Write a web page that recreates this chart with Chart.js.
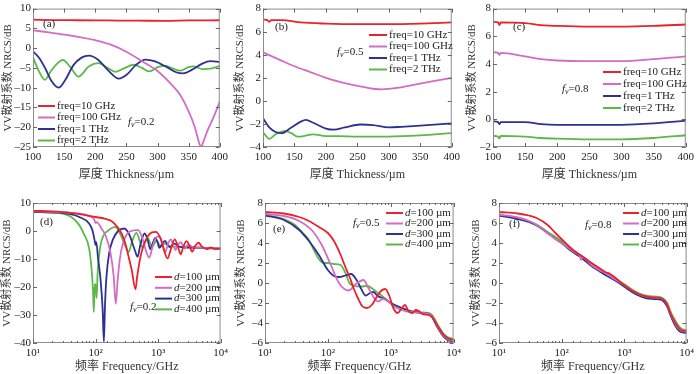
<!DOCTYPE html>
<html>
<head>
<meta charset="utf-8">
<script src="https://cdn.jsdelivr.net/npm/chart.js@4.4.0/dist/chart.umd.min.js"></script>
<style>
  body { margin: 0; background: #fff; width: 700px; height: 374px; position: relative; overflow: hidden; }
  canvas { position: absolute; }
</style>
</head>
<body>
<script>
// ---- data: [x, y] pairs ----
// (a) fv = 0.2, NRCS vs thickness
var aRed = [[100,7.2],[130,7.1],[170,7.05],[220,7.0],[270,6.95],[310,6.9],[350,7.0],[400,7.05]];
var aMag = [[100,4.5],[125,4.0],[150,3.4],[175,2.8],[200,2.0],[225,0.9],[250,-0.9],[275,-3.3],[300,-5.8],[320,-8.8],[335,-11.5],[350,-16],[360,-20],[366,-23.5],[370,-25],[374,-23.5],[380,-21],[390,-17.5],[400,-13.6]];
var aBlue = [[100,-0.8],[110,-2.5],[120,-5.2],[130,-8.4],[141,-10.0],[152,-8.0],[165,-4.3],[178,-2.4],[190,-1.9],[205,-3.0],[220,-5.5],[238,-7.7],[252,-6.5],[265,-4.3],[281,-2.9],[295,-3.3],[315,-4.8],[330,-6.1],[341,-6.4],[355,-5.5],[372,-3.9],[385,-3.3],[400,-3.5]];
var aGreen = [[100,-2.3],[110,-6],[119,-8.0],[130,-5.5],[148,-3.0],[160,-4.8],[173,-7.2],[190,-4.6],[205,-3.8],[220,-5.0],[232,-6.0],[245,-5.2],[262,-4.2],[275,-5.0],[287,-5.9],[300,-4.8],[312,-4.4],[325,-5.2],[337,-5.7],[350,-4.8],[358,-4.6],[372,-5.3],[385,-5.2],[400,-4.5]];

// (b) fv = 0.5
var bRed = [[100,7.05],[107,7.0],[110,6.85],[113,7.0],[130,7.0],[160,6.8],[200,6.7],[250,6.65],[300,6.65],[350,6.7],[400,6.8]];
var bMag = [[100,4.2],[125,3.6],[150,3.0],[175,2.5],[200,2.0],[225,1.6],[250,1.3],[275,1.05],[290,1.0],[310,1.1],[335,1.35],[360,1.6],[380,1.8],[400,2.0]];
var bBlue = [[100,-1.5],[110,-2.3],[120,-2.7],[130,-2.8],[145,-2.3],[160,-1.8],[168,-1.65],[180,-1.9],[200,-2.4],[213,-2.5],[230,-2.3],[255,-2.05],[275,-2.1],[300,-2.3],[320,-2.25],[350,-2.15],[400,-1.95]];
var bGreen = [[100,-2.7],[110,-3.3],[120,-2.9],[135,-2.6],[145,-2.8],[155,-3.1],[165,-3.05],[180,-2.9],[200,-3.05],[220,-3.05],[250,-3.1],[300,-3.1],[350,-3.0],[400,-2.8]];

// (c) fv = 0.8
var cRed = [[100,7.05],[108,7.0],[110,6.8],[112,7.0],[150,6.95],[175,6.8],[200,6.75],[250,6.7],[300,6.7],[350,6.75],[400,6.85]];
var cMag = [[100,4.85],[108,4.8],[110,4.65],[112,4.8],[150,4.55],[175,4.35],[200,4.25],[250,4.2],[300,4.2],[350,4.35],[400,4.55]];
var cBlue = [[100,-0.15],[108,-0.2],[110,-0.35],[112,-0.2],[150,-0.2],[175,-0.35],[200,-0.4],[250,-0.4],[300,-0.4],[350,-0.3],[400,-0.1]];
var cGreen = [[100,-1.2],[108,-1.25],[110,-1.4],[112,-1.2],[150,-1.25],[175,-1.35],[200,-1.4],[250,-1.45],[300,-1.45],[350,-1.35],[400,-1.15]];

// (d) fv = 0.2, NRCS vs frequency (GHz)
var dRed = [[10,7.2],[20,7.0],[40,6.5],[60,5.9],[80,5.4],[100,5.0],[140,4.4],[182,3.5],[220,1.6],[262,-0.9],[300,-4.5],[333,-8.6],[380,-14],[435,-20.8],[465,-16],[520,-9.5],[580,-5.5],[690,-1.8],[800,-0.5],[930,-0.3],[1100,-2.8],[1250,-7.0],[1420,-9.8],[1600,-6.5],[1845,-3.0],[2050,-5.0],[2290,-8.3],[2550,-5.5],[2850,-3.6],[3150,-5.0],[3500,-7.4],[3950,-5.2],[4460,-4.2],[5000,-5.5],[6000,-6.5],[7000,-5.9],[8000,-6.4],[10000,-6.3]];
var dMag = [[10,7.0],[30,6.7],[50,6.3],[79,5.4],[95,4.2],[100,2.8],[105,3.2],[125,0.8],[144,-1.5],[172,-7.4],[195,-16],[211,-26],[225,-18],[245,-10],[270,-5],[320,-1.0],[400,0.2],[480,0.3],[560,-2.5],[640,-7.0],[720,-9.5],[820,-5.5],[920,-2.5],[1050,-1.8],[1180,-4.5],[1300,-7.5],[1450,-4.5],[1600,-3.0],[1750,-5.0],[1900,-6.8],[2100,-4.8],[2300,-4.0],[2500,-5.2],[2700,-6.3],[3000,-5.0],[3500,-5.6],[4500,-5.9],[6000,-6.1],[10000,-6.3]];
var dBlue = [[10,6.8],[30,6.4],[40,6.0],[55,5.0],[79,2.7],[90,0],[97,-3.5],[100,-5],[103,-4],[110,-10],[120,-17],[130,-28],[136,-39.5],[142,-26],[150,-16],[165,-8],[190,-3],[230,0],[289,0.9],[350,-1.5],[420,-6.5],[470,-9.2],[520,-5],[610,-0.9],[680,-3.0],[750,-6.5],[820,-4.5],[900,-2.5],[980,-4.0],[1050,-6.0],[1170,-4.5],[1300,-3.5],[1420,-5.0],[1550,-5.8],[1700,-5.0],[1850,-4.5],[2100,-5.5],[3000,-5.9],[5000,-6.0],[10000,-6.3]];
var dGreen = [[10,6.8],[20,6.5],[30,6.2],[40,5.2],[55,2.1],[65,-1],[79,-6.2],[86,-13],[91,-21],[94,-29],[97,-19],[100,-19],[104,-24],[108,-15],[118,-6],[135,-1.5],[160,0.2],[206,1.5],[260,-2],[300,-5.5],[340,-7.5],[380,-4],[450,-0.7],[510,-3.5],[560,-5.8],[620,-4],[680,-2.5],[740,-4],[800,-5.8],[870,-4.5],[950,-3.5],[1020,-4.5],[1100,-5.6],[1200,-4.9],[1300,-4.5],[1500,-5.3],[2000,-5.6],[3000,-5.8],[5000,-6.0],[10000,-6.3]];

// (e) fv = 0.5
var eRed = [[10,7.1],[20,6.95],[35,6.6],[50,6.2],[72,5.6],[100,5.0],[125,4.2],[155,3.0],[190,1.6],[225,0.5],[260,-0.6],[300,-1.5],[350,-2.3],[420,-2.5],[500,-2.2],[600,-1.4],[700,-0.8],[820,-0.6],[950,-1.3],[1100,-2.5],[1290,-3.0],[1500,-2.5],[1690,-2.2],[1900,-2.8],[2200,-3.0],[2500,-2.7],[2800,-2.8],[3200,-3.1],[4000,-3.2],[4500,-3.4],[5000,-3.8],[6000,-4.6],[7000,-5.2],[8000,-5.5],[10000,-5.7]];
var eMag = [[10,6.9],[20,6.7],[35,6.2],[57,5.2],[80,3.8],[110,1.9],[150,0.0],[214,-0.75],[280,-0.1],[367,0.3],[450,-0.6],[560,-1.6],[630,-1.85],[750,-1.6],[900,-1.8],[1100,-2.3],[1500,-2.7],[2000,-2.9],[3000,-3.0],[4000,-3.1],[4500,-3.3],[5000,-3.8],[6000,-4.7],[7000,-5.3],[8000,-5.6],[10000,-5.75]];
var eBlue = [[10,6.75],[20,6.3],[35,5.3],[50,4.2],[72,2.8],[100,1.3],[130,0.65],[150,0.6],[190,0.75],[235,0.9],[280,0.4],[340,-0.6],[400,-1.25],[470,-1.0],[530,-0.9],[620,-1.3],[800,-1.6],[1000,-2.0],[1500,-2.5],[2000,-2.8],[3000,-3.0],[4000,-3.1],[4500,-3.3],[5000,-3.9],[6000,-4.8],[7000,-5.4],[8000,-5.7],[10000,-5.85]];
var eGreen = [[10,6.8],[20,6.4],[30,5.8],[40,5.0],[50,4.3],[60,3.3],[72,2.4],[85,2.0],[100,2.0],[125,1.9],[160,1.8],[190,1.0],[220,0.0],[270,-0.3],[330,-0.35],[430,-0.3],[520,-0.6],[630,-1.0],[800,-1.5],[1000,-2.0],[1500,-2.5],[2500,-2.9],[4000,-3.0],[4500,-3.2],[5000,-3.6],[6000,-4.5],[7000,-5.1],[8000,-5.4],[10000,-5.6]];

// (f) fv = 0.8
var fRed = [[10,7.1],[20,6.95],[30,6.75],[40,6.5],[60,5.8],[80,5.0],[100,4.4],[130,3.7],[160,3.2],[200,2.8],[300,2.0],[400,1.5],[500,1.1],[600,0.9],[700,0.6],[800,0.3],[1000,-0.2],[1300,-0.7],[1700,-1.1],[2200,-1.35],[3000,-1.45],[4000,-1.55],[4500,-1.8],[5000,-2.3],[5500,-3.0],[6500,-3.9],[7500,-4.5],[8500,-4.75],[10000,-4.85]];
var fMag = [[10,6.85],[20,6.55],[30,6.2],[40,5.8],[60,5.0],[80,4.4],[100,4.0],[130,3.5],[160,3.1],[195,2.7],[205,2.3],[215,2.6],[300,1.8],[400,1.3],[500,1.0],[700,0.4],[1000,-0.2],[1300,-0.7],[1700,-1.1],[2200,-1.35],[3000,-1.45],[4000,-1.55],[4500,-1.8],[5000,-2.3],[5500,-3.0],[6500,-4.0],[7500,-4.6],[8500,-4.8],[10000,-4.9]];
var fBlue = [[10,6.75],[20,6.4],[30,6.1],[40,5.75],[60,5.0],[80,4.4],[100,4.0],[130,3.4],[160,3.0],[200,2.6],[300,1.7],[400,1.2],[500,0.8],[700,0.3],[1000,-0.35],[1300,-0.85],[1700,-1.25],[2200,-1.5],[3000,-1.6],[4000,-1.7],[4500,-2.0],[5000,-2.5],[5500,-3.2],[6500,-4.2],[7500,-4.75],[8500,-4.95],[10000,-5.0]];
var fGreen = [[10,6.8],[20,6.5],[30,6.2],[40,5.85],[60,5.1],[80,4.6],[100,4.2],[130,3.6],[160,3.2],[200,2.8],[300,2.0],[400,1.45],[500,1.05],[700,0.5],[1000,-0.1],[1300,-0.6],[1700,-1.0],[2200,-1.25],[3000,-1.35],[4000,-1.45],[4500,-1.7],[5000,-2.1],[5500,-2.8],[6500,-3.7],[7500,-4.3],[8500,-4.6],[10000,-4.7]];

var freqLabels = ['freq=10 GHz', 'freq=100 GHz', 'freq=1 THz', 'freq=2 THz'];
var thickLabels = ['100 µm', '200 µm', '300 µm', '400 µm'];

var colors = ['#e8232b', '#d26cc4', '#2e3192', '#5db848'];
var SERIF = "'Liberation Serif', 'Times New Roman', 'Noto Sans CJK SC', serif";

// frame + inward ticks on all four sides (MATLAB look)
var boxTicks = {
	id: 'boxTicks',
	afterDatasetsDraw: function(chart) {
		var ctx = chart.ctx, a = chart.chartArea, xs = chart.scales.x, ys = chart.scales.y;
		ctx.save();
		ctx.strokeStyle = '#8c8c8c';
		ctx.lineWidth = 1;
		ctx.strokeRect(a.left + 0.5, a.top + 0.5, a.right - a.left - 1, a.bottom - a.top - 1);
		ctx.strokeStyle = '#666';
		ctx.beginPath();
		xs.ticks.forEach(function(t) {
			var px = Math.round(xs.getPixelForValue(t.value)) + 0.5;
			var len = 4;
			if (xs.type === 'logarithmic') {
				var lg = Math.log10(t.value);
				if (Math.abs(lg - Math.round(lg)) > 1e-6) len = 2;
			}
			ctx.moveTo(px, a.bottom); ctx.lineTo(px, a.bottom - len);
			ctx.moveTo(px, a.top); ctx.lineTo(px, a.top + len);
		});
		ys.ticks.forEach(function(t) {
			var py = Math.round(ys.getPixelForValue(t.value)) + 0.5;
			ctx.moveTo(a.left, py); ctx.lineTo(a.left + 4, py);
			ctx.moveTo(a.right, py); ctx.lineTo(a.right - 4, py);
		});
		ctx.stroke();
		ctx.restore();
	}
};

// in-plot legend, panel label and fv note
var panelText = {
	id: 'panelText',
	afterDraw: function(chart, args, o) {
		var ctx = chart.ctx;
		ctx.save();
		ctx.textBaseline = 'middle';
		ctx.fillStyle = '#222';
		ctx.font = '11px ' + SERIF;
		ctx.fillText(o.tag, o.tagX, o.tagY);

		// f_v = ...
		var x = o.fvX;
		ctx.font = 'italic 11px ' + SERIF;
		ctx.fillText('f', x, o.fvY);
		x += ctx.measureText('f').width;
		ctx.font = 'italic 8px ' + SERIF;
		ctx.fillText('v', x, o.fvY + 3);
		x += ctx.measureText('v').width;
		ctx.font = '11px ' + SERIF;
		ctx.fillText(o.fv, x, o.fvY);

		chart.data.datasets.forEach(function(ds, i) {
			var y = o.legY + i * o.legGap;
			ctx.strokeStyle = ds.borderColor;
			ctx.lineWidth = 2;
			ctx.beginPath();
			ctx.moveTo(o.legX1, y); ctx.lineTo(o.legX2, y);
			ctx.stroke();
			var tx = o.legX2 + 2;
			if (o.italicD) {
				ctx.font = 'italic 11px ' + SERIF;
				ctx.fillText('d', tx, y);
				tx += ctx.measureText('d').width;
				ctx.font = '11px ' + SERIF;
				ctx.fillText('=' + ds.label, tx, y);
			} else {
				ctx.font = '11px ' + SERIF;
				ctx.fillText(ds.label, tx, y);
			}
		});
		ctx.restore();
	}
};

function supPow(v) {
	var sup = { 1: '¹', 2: '²', 3: '³', 4: '⁴' };
	var lg = Math.log10(v);
	if (Math.abs(lg - Math.round(lg)) < 1e-6) return '10' + sup[Math.round(lg)];
	return '';
}

function makePanel(p) {
	var cv = document.createElement('canvas');
	cv.width = p.w; cv.height = p.h;
	cv.style.left = p.left + 'px'; cv.style.top = p.top + 'px';
	document.body.appendChild(cv);

	var datasets = p.series.map(function(s, i) {
		return {
			label: p.labels[i],
			data: s.map(function(d) { return { x: d[0], y: d[1] }; }),
			borderColor: colors[i],
			borderWidth: 1.8,
			pointRadius: 0,
			fill: false,
			cubicInterpolationMode: 'monotone'
		};
	});

	var isLog = p.xType === 'logarithmic';
	var local = function(v, off) { return v - off; };

	new Chart(cv.getContext('2d'), {
		type: 'line',
		data: { datasets: datasets },
		plugins: [boxTicks, panelText],
		options: {
			responsive: false,
			animation: false,
			events: [],
			layout: { padding: { left: 0, top: p.padTop, right: p.padRight, bottom: 0 } },
			scales: {
				x: {
					type: p.xType,
					min: p.xMin, max: p.xMax,
					grid: { display: false, drawTicks: false },
					border: { display: false },
					afterFit: function(s) { s.height = p.xH; },
					ticks: {
						autoSkip: false, maxRotation: 0, padding: 4,
						stepSize: isLog ? undefined : 50,
						color: '#222',
						font: { family: SERIF, size: 11 },
						callback: function(v) { return isLog ? supPow(v) : String(v); }
					},
					title: {
						display: true, text: p.xTitle, color: '#333',
						font: { family: SERIF, size: 12 },
						padding: { top: p.xTitlePad, bottom: p.xTitlePad }
					}
				},
				y: {
					min: p.yMin, max: p.yMax,
					grid: { display: false, drawTicks: false },
					border: { display: false },
					afterFit: function(s) { s.width = p.yW; },
					ticks: {
						stepSize: p.yStep, padding: 2, color: '#222',
						font: { family: SERIF, size: 11 },
						callback: function(v) { return String(v).replace('-', '\u2013'); }
					},
					title: {
						display: true, text: 'VV散射系数 NRCS/dB', color: '#333',
						font: { family: SERIF, size: 11 },
						padding: { top: p.yTitlePad, bottom: p.yTitlePad }
					}
				}
			},
			plugins: {
				legend: { display: false },
				tooltip: { enabled: false },
				panelText: {
					tag: p.tag, tagX: local(p.tagXY[0], p.left), tagY: local(p.tagXY[1], p.top),
					fv: p.fv, fvX: local(p.fvXY[0], p.left), fvY: local(p.fvXY[1], p.top),
					legX1: local(p.leg[0], p.left), legX2: local(p.leg[1], p.left),
					legY: local(p.leg[2], p.top), legGap: p.leg[3],
					italicD: p.italicD
				}
			}
		}
	});
}

var thickTitle = '厚度 Thickness/µm';
var freqTitle = '频率 Frequency/GHz';

makePanel({ left: 0, top: 0, w: 232, h: 185, padTop: 4, padRight: 8, yW: 33, xH: 38, xTitlePad: 3, yTitlePad: 2,
	xType: 'linear', xMin: 100, xMax: 400, yMin: -25, yMax: 10, yStep: 5, xTitle: thickTitle,
	series: [aRed, aMag, aBlue, aGreen], labels: freqLabels,
	tag: '(a)', tagXY: [43, 24], fv: '=0.2', fvXY: [128, 122], leg: [38, 55, 106, 11.5], italicD: false });

makePanel({ left: 233, top: 0, w: 231, h: 185, padTop: 4, padRight: 8, yW: 30, xH: 38, xTitlePad: 3, yTitlePad: 1,
	xType: 'linear', xMin: 100, xMax: 400, yMin: -4, yMax: 8, yStep: 2, xTitle: thickTitle,
	series: [bRed, bMag, bBlue, bGreen], labels: freqLabels,
	tag: '(b)', tagXY: [275, 27], fv: '=0.5', fvXY: [337, 52], leg: [369, 387, 35, 11.5], italicD: false });

makePanel({ left: 465, top: 0, w: 233, h: 185, padTop: 4, padRight: 7, yW: 28, xH: 38, xTitlePad: 3, yTitlePad: 0.5,
	xType: 'linear', xMin: 100, xMax: 400, yMin: -2, yMax: 8, yStep: 2, xTitle: thickTitle,
	series: [cRed, cMag, cBlue, cGreen], labels: freqLabels,
	tag: '(c)', tagXY: [513, 27], fv: '=0.8', fvXY: [562, 89], leg: [603, 621, 72, 12], italicD: false });

makePanel({ left: 0, top: 185, w: 232, h: 189, padTop: 18, padRight: 8, yW: 33, xH: 31, xTitlePad: 0, yTitlePad: 1,
	xType: 'logarithmic', xMin: 10, xMax: 10000, yMin: -40, yMax: 10, yStep: 10, xTitle: freqTitle,
	series: [dRed, dMag, dBlue, dGreen], labels: thickLabels,
	tag: '(d)', tagXY: [40, 222], fv: '=0.2', fvXY: [130, 307], leg: [155, 172, 277, 10.8], italicD: true });

makePanel({ left: 233, top: 185, w: 232, h: 189, padTop: 18, padRight: 8, yW: 32, xH: 31, xTitlePad: 0, yTitlePad: 2,
	xType: 'logarithmic', xMin: 10, xMax: 10000, yMin: -6, yMax: 8, yStep: 2, xTitle: freqTitle,
	series: [eRed, eMag, eBlue, eGreen], labels: thickLabels,
	tag: '(e)', tagXY: [273, 229], fv: '=0.5', fvXY: [353, 223], leg: [386, 403, 213, 10.5], italicD: true });

makePanel({ left: 465, top: 185, w: 233, h: 189, padTop: 18, padRight: 7, yW: 34, xH: 31, xTitlePad: 0, yTitlePad: 5,
	xType: 'logarithmic', xMin: 10, xMax: 10000, yMin: -6, yMax: 8, yStep: 2, xTitle: freqTitle,
	series: [fRed, fMag, fBlue, fGreen], labels: thickLabels,
	tag: '(f)', tagXY: [509, 224], fv: '=0.8', fvXY: [585, 225], leg: [623, 639, 213, 10.5], italicD: true });
</script>
</body>
</html>
